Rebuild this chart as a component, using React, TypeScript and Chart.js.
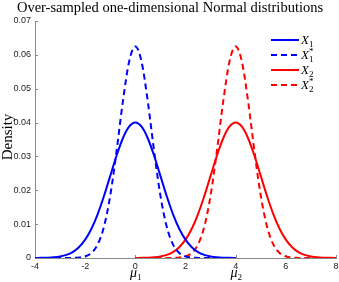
import React, { useEffect, useRef } from "react";
import { Chart, registerables } from "chart.js";

Chart.register(...registerables);

const xBlue = [-4, -3.75, -3.5, -3.25, -3, -2.75, -2.5, -2.25, -2, -1.75, -1.5, -1.25, -1, -0.75, -0.5, -0.25, 0, 0.25, 0.5, 0.75, 1, 1.25, 1.5, 1.75, 2, 2.25, 2.5, 2.75, 3, 3.25, 3.5, 3.75, 4];
const xRed = [0, 0.25, 0.5, 0.75, 1, 1.25, 1.5, 1.75, 2, 2.25, 2.5, 2.75, 3, 3.25, 3.5, 3.75, 4, 4.25, 4.5, 4.75, 5, 5.25, 5.5, 5.75, 6, 6.25, 6.5, 6.75, 7, 7.25, 7.5, 7.75, 8];

const x1Density = [0.00001, 0.00004, 0.00009, 0.0002, 0.00044, 0.00091, 0.00175, 0.00318, 0.00541, 0.00865, 0.01299, 0.01831, 0.02426, 0.03019, 0.0353, 0.03877, 0.04, 0.03877, 0.0353, 0.03019, 0.02426, 0.01831, 0.01299, 0.00865, 0.00541, 0.00318, 0.00175, 0.00091, 0.00044, 0.0002, 0.00009, 0.00004, 0.00001];
const x1StarDensity = [0, 0, 0, 0, 0, 0, 0.00003, 0.00013, 0.00047, 0.00149, 0.00401, 0.00928, 0.01844, 0.03146, 0.04606, 0.05791, 0.0625, 0.05791, 0.04606, 0.03146, 0.01844, 0.00928, 0.00401, 0.00149, 0.00047, 0.00013, 0.00003, 0, 0, 0, 0, 0, 0];
const x2Density = [0.00001, 0.00004, 0.00009, 0.0002, 0.00044, 0.00091, 0.00175, 0.00318, 0.00541, 0.00865, 0.01299, 0.01831, 0.02426, 0.03019, 0.0353, 0.03877, 0.04, 0.03877, 0.0353, 0.03019, 0.02426, 0.01831, 0.01299, 0.00865, 0.00541, 0.00318, 0.00175, 0.00091, 0.00044, 0.0002, 0.00009, 0.00004, 0.00001];
const x2StarDensity = [0, 0, 0, 0, 0, 0, 0.00003, 0.00013, 0.00047, 0.00149, 0.00401, 0.00928, 0.01844, 0.03146, 0.04606, 0.05791, 0.0625, 0.05791, 0.04606, 0.03146, 0.01844, 0.00928, 0.00401, 0.00149, 0.00047, 0.00013, 0.00003, 0, 0, 0, 0, 0, 0];

const xTicks = [-4, -2, 0, 2, 4, 6, 8];
const yTicks = [0, 0.01, 0.02, 0.03, 0.04, 0.05, 0.06, 0.07];
const meanLabels = [
  { x: 0, sub: "1" },
  { x: 4, sub: "2" },
];
const legendItems = [
  { sub: "1", star: false, color: "#0000ff", dash: [] as number[] },
  { sub: "1", star: true, color: "#0000ff", dash: [6, 4] },
  { sub: "2", star: false, color: "#ff0000", dash: [] as number[] },
  { sub: "2", star: true, color: "#ff0000", dash: [6, 4] },
];

const TITLE = "Over-sampled one-dimensional Normal distributions";
const Y_TITLE = "Density";
const SERIF = "'Liberation Serif', 'Times New Roman', serif";
const SANS = "'Liberation Sans', Arial, sans-serif";

const pts = (xs: number[], ys: number[]) => xs.map((x, i) => ({ x, y: ys[i] }));

const decorPlugin = {
  id: "decor",
  beforeDatasetsDraw(chart: any) {
    const { ctx, chartArea, scales } = chart;
    ctx.save();
    ctx.strokeStyle = "#888";
    ctx.lineWidth = 1;
    xTicks.forEach((t) => {
      const px = Math.round(scales.x.getPixelForValue(t)) + 0.5;
      ctx.beginPath();
      ctx.moveTo(px, chartArea.bottom);
      ctx.lineTo(px, chartArea.bottom - 3);
      ctx.stroke();
    });
    yTicks.forEach((t) => {
      const py = Math.round(scales.y.getPixelForValue(t)) + 0.5;
      ctx.beginPath();
      ctx.moveTo(chartArea.left, py);
      ctx.lineTo(chartArea.left + 3, py);
      ctx.stroke();
    });
    ctx.restore();
  },
  afterDraw(chart: any) {
    const { ctx, scales } = chart;
    ctx.save();
    ctx.fillStyle = "#000";
    // title
    ctx.font = `14.5px ${SERIF}`;
    ctx.textAlign = "center";
    ctx.textBaseline = "alphabetic";
    ctx.fillText(TITLE, 170, 12);
    // y title
    ctx.save();
    ctx.translate(8, 137);
    ctx.rotate(-Math.PI / 2);
    ctx.font = `15px ${SERIF}`;
    ctx.textBaseline = "middle";
    ctx.fillText(Y_TITLE, 0, 0);
    ctx.restore();
    // mean labels
    meanLabels.forEach((m) => {
      const px = scales.x.getPixelForValue(m.x);
      ctx.font = `italic 14px ${SERIF}`;
      ctx.textAlign = "left";
      const w = ctx.measureText("μ").width;
      ctx.font = `9px ${SERIF}`;
      const ws = ctx.measureText(m.sub).width;
      const start = px - (w + ws) / 2 + 0.5;
      ctx.font = `italic 14px ${SERIF}`;
      ctx.fillText("μ", start, 277);
      ctx.font = `9px ${SERIF}`;
      ctx.fillText(m.sub, start + w, 280);
    });
    // legend
    legendItems.forEach((it, i) => {
      const y = 40 + i * 15;
      ctx.save();
      ctx.strokeStyle = it.color;
      ctx.lineWidth = 2;
      ctx.setLineDash(it.dash);
      ctx.beginPath();
      ctx.moveTo(271, y);
      ctx.lineTo(299, y);
      ctx.stroke();
      ctx.restore();
      ctx.fillStyle = "#000";
      ctx.textAlign = "left";
      ctx.font = `italic 13px ${SERIF}`;
      ctx.fillText("X", 301, y + 4);
      const wx = ctx.measureText("X").width;
      ctx.font = `9px ${SERIF}`;
      ctx.fillText(it.sub, 301 + wx, y + 7);
      if (it.star) ctx.fillText("*", 301 + wx, y - 1);
    });
    ctx.restore();
  },
};

export default function App() {
  const ref = useRef<HTMLCanvasElement>(null);
  useEffect(() => {
    if (!ref.current) return;
    const lineStyle = { borderWidth: 2, pointRadius: 0, fill: false, cubicInterpolationMode: "monotone" as const };
    const chart = new Chart(ref.current, {
      type: "line",
      data: {
        datasets: [
          { label: "X1", data: pts(xBlue, x1Density), borderColor: "#0000ff", ...lineStyle },
          { label: "X1*", data: pts(xBlue, x1StarDensity), borderColor: "#0000ff", borderDash: [6, 4], ...lineStyle },
          { label: "X2", data: pts(xRed, x2Density), borderColor: "#ff0000", ...lineStyle },
          { label: "X2*", data: pts(xRed, x2StarDensity), borderColor: "#ff0000", borderDash: [6, 4], ...lineStyle },
        ],
      },
      options: {
        animation: false,
        responsive: false,
        devicePixelRatio: 1,
        layout: { padding: { top: 21, right: 3, left: 0, bottom: 0 } },
        plugins: { legend: { display: false }, title: { display: false }, tooltip: { enabled: false } },
        scales: {
          x: {
            type: "linear",
            min: -4,
            max: 8,
            afterBuildTicks: (s: any) => {
              s.ticks = xTicks.map((v) => ({ value: v }));
            },
            ticks: { color: "#222", font: { family: SANS, size: 9 }, padding: 3, maxRotation: 0, autoSkip: false },
            grid: { display: false, drawTicks: false },
            border: { display: true, color: "#888", width: 1 },
            afterFit: (s: any) => {
              s.height = 24;
              s.paddingLeft = 0;
              s.paddingRight = 0;
            },
          },
          y: {
            type: "linear",
            min: 0,
            max: 0.07,
            afterBuildTicks: (s: any) => {
              s.ticks = yTicks.map((v) => ({ value: v }));
            },
            ticks: {
              color: "#222",
              font: { family: SANS, size: 9 },
              padding: 4,
              callback: (v: any) => (Number(v) === 0 ? "0" : Number(v).toFixed(2)),
            },
            grid: { display: false, drawTicks: false },
            border: { display: true, color: "#888", width: 1 },
            afterFit: (s: any) => {
              s.width = 35;
              s.paddingTop = 0;
              s.paddingBottom = 0;
            },
          },
        },
      },
      plugins: [decorPlugin],
    });
    return () => chart.destroy();
  }, []);
  return (
    <div style={{ position: "fixed", left: 0, top: 0, width: 339, height: 282, background: "#fff" }}>
      <canvas ref={ref} width={339} height={282} />
    </div>
  );
}
